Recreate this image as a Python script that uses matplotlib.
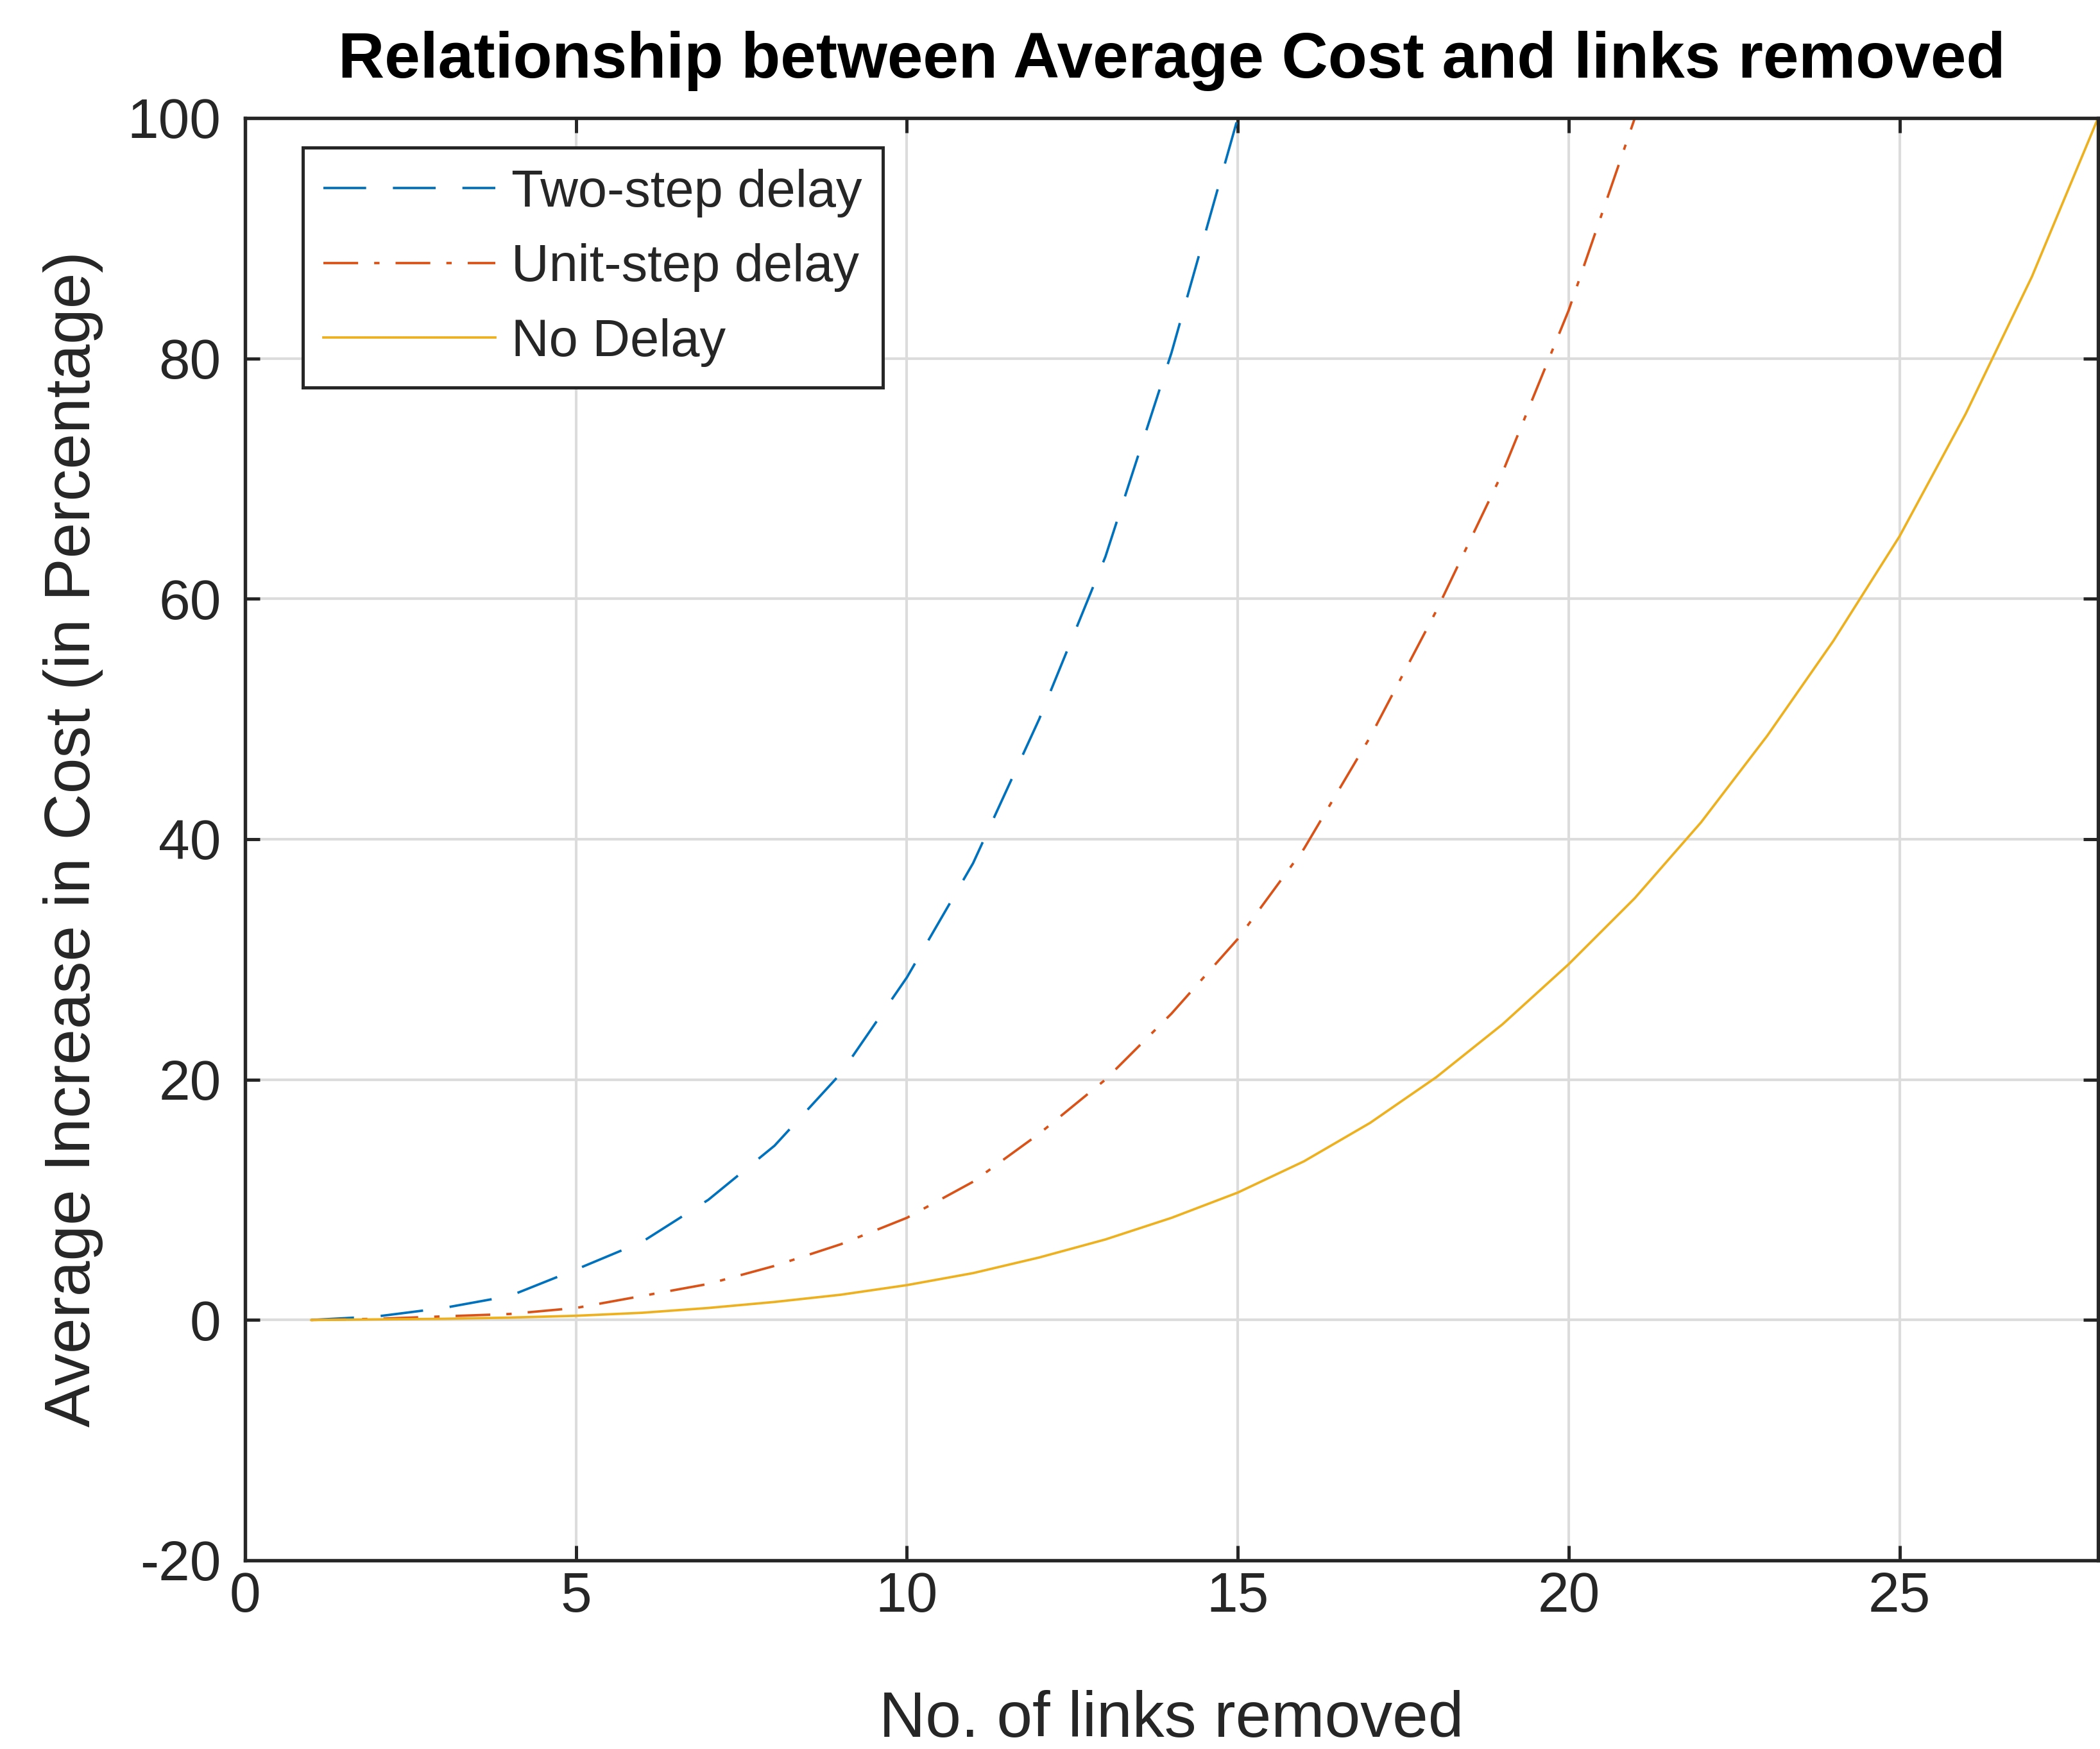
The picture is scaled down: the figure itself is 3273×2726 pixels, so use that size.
import matplotlib
matplotlib.use("Agg")
import matplotlib.pyplot as plt

plt.rcParams['font.family'] = ['Liberation Sans', 'DejaVu Sans']
plt.rcParams['lines.scale_dashes'] = False

# ---- data ----
x_two = [1, 2, 3, 4, 5, 6, 7, 8, 9, 10, 11, 12, 13, 14, 15]
y_two = [0, 0.3, 1.0, 2.0, 4.2, 6.5, 10.0, 14.5, 20.5, 28.5, 38.0, 50.0, 63.5, 80.5, 100.0]

x_unit = [1, 2, 3, 4, 5, 6, 7, 8, 9, 10, 11, 12, 13, 14, 15, 16, 17, 18, 19, 20, 21]
y_unit = [0, 0.1, 0.3, 0.5, 1.0, 2.0, 3.0, 4.5, 6.3, 8.5, 11.5, 15.5, 20.0, 25.5, 31.7,
          39.2, 48.5, 59.0, 70.5, 84.0, 100.0]

x_none = list(range(1, 29))
y_none = [0, 0.05, 0.1, 0.2, 0.35, 0.6, 1.0, 1.5, 2.1, 2.9, 3.9, 5.2, 6.7, 8.5, 10.6,
          13.2, 16.4, 20.2, 24.6, 29.6, 35.1, 41.4, 48.6, 56.5, 65.2, 75.4, 86.8, 100.0]

labels = ["Two-step delay", "Unit-step delay", "No Delay"]
x_ticks = [0, 5, 10, 15, 20, 25]
y_ticks = [-20, 0, 20, 40, 60, 80, 100]

W, H = 3273, 2726
dpi = 300
fig = plt.figure(figsize=(W / dpi, H / dpi), dpi=dpi)
left, right = 382 / W, (W - 3) / W
bottom, top = 1 - 2432 / H, 1 - 184 / H
ax = fig.add_axes([left, bottom, right - left, top - bottom])

c_blue = (0.0, 0.447, 0.741)
c_red = (0.85, 0.325, 0.098)
c_yel = (0.929, 0.694, 0.125)

ax.plot(x_two, y_two, color=c_blue, lw=0.9, dashes=(16, 10), label=labels[0])
ax.plot(x_unit, y_unit, color=c_red, lw=0.9, dashes=(13, 6, 2, 6), label=labels[1])
ax.plot(x_none, y_none, color=c_yel, lw=0.9, linestyle='-', label=labels[2])

ax.set_xlim(0, 28)
ax.set_ylim(-20, 100)
ax.set_xticks(x_ticks)
ax.set_yticks(y_ticks)
ax.set_xticklabels([str(v) for v in x_ticks])
ax.set_yticklabels([str(v) for v in y_ticks])

ax.grid(True, color='#dcdcdc', linewidth=1.0)
ax.set_axisbelow(True)

for s in ax.spines.values():
    s.set_linewidth(1.3)
    s.set_color('#262626')

ax.tick_params(axis='both', direction='in', length=5.5, width=1.2, colors='#262626',
               labelcolor='#262626', labelsize=21, top=True, right=True)
ax.tick_params(axis='x', pad=4)
ax.tick_params(axis='y', pad=9)

ax.set_xlabel("No. of links removed", fontsize=24, color='#262626', labelpad=25)
ax.set_ylabel("Average Increase in Cost (in Percentage)", fontsize=24, color='#262626', labelpad=9)
ax.set_title("Relationship between Average Cost and links removed", fontsize=24,
             fontweight='bold', pad=15)

leg = ax.legend(loc='upper left', bbox_to_anchor=(0.0311, 0.9795), borderaxespad=0,
                fontsize=19.5, handlelength=3.3, handletextpad=0.3, borderpad=0.4,
                labelspacing=0.5, fancybox=False, framealpha=1, edgecolor='#262626')
leg.get_frame().set_linewidth(1.2)
for t in leg.get_texts():
    t.set_color('#262626')

fig.savefig("out.png", dpi=dpi)
